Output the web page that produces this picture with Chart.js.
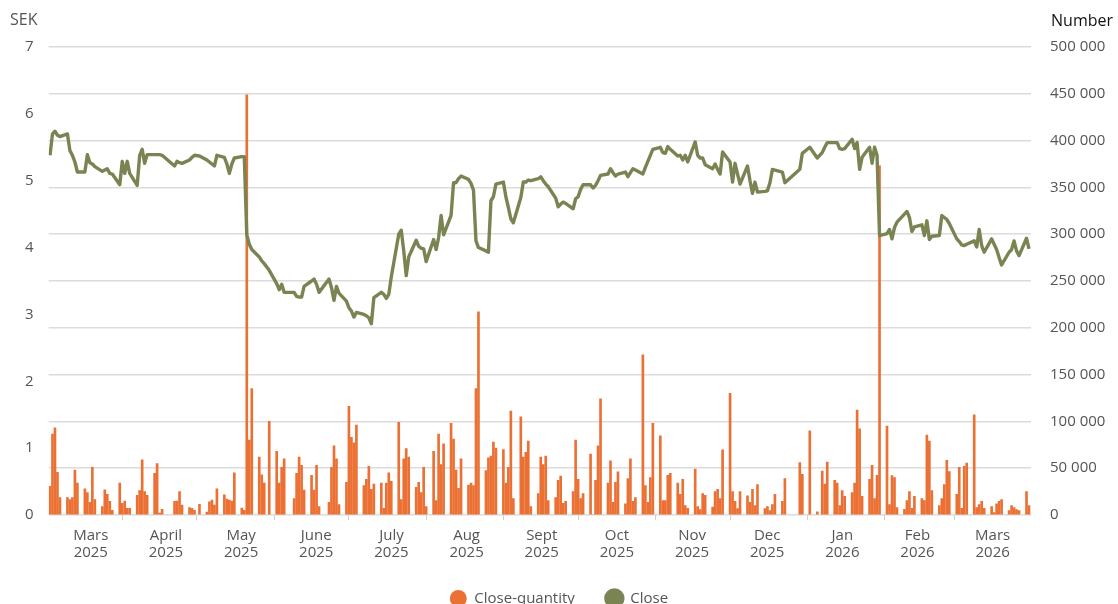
<!DOCTYPE html>
<html>
<head>
<meta charset="utf-8">
<script src="https://cdn.jsdelivr.net/npm/chart.js@4.4.1/dist/chart.umd.min.js"></script>
<style>
  html, body { margin: 0; padding: 0; background: #fff; overflow: hidden; }
  #wrap { position: relative; width: 1118px; height: 616px; }
  .unit { position: absolute; font-family: 'Open Sans', sans-serif; }
  #sek { left: 10px; top: 8px; font-size: 16px; color: #555; }
  #num { right: 5px; top: 9px; font-size: 16px; color: #111; }
</style>
</head>
<body>
<div id="wrap">
  <canvas id="chart" width="1118" height="616"></canvas>
  <div class="unit" id="sek">SEK</div>
  <div class="unit" id="num">Number</div>
</div>
<script>
// one row per week, Mon..Fri, starting Mon 3 Mar 2025. null = market closed
const closePrices = [
  5.38, 5.70, 5.74, 5.68, 5.66,
  5.70, 5.45, 5.38, 5.28, 5.13,
  5.13, 5.39, 5.27, 5.25, 5.21,
  5.14, 5.16, 5.18, 5.11, 5.10,
  4.94, 5.29, 5.11, 5.29, 5.11,
  4.93, 5.38, 5.47, 5.26, 5.39,
  5.39, 5.39, 5.39, 5.38, null,
  null, 5.22, 5.29, 5.27, 5.26,
  5.31, 5.35, 5.38, null, 5.37,
  5.31, 5.28, 5.25, 5.22, 5.38,
  5.35, 5.25, 5.11, 5.25, 5.34,
  5.36, 5.36, 4.19, 4.05, 3.97,
  3.86, 3.80, 3.76, null, 3.66,
  3.46, 3.37, 3.45, 3.33, null,
  3.33, 3.27, 3.26, 3.26, 3.42,
  3.50, 3.53, 3.45, 3.33, null,
  3.53, 3.40, 3.21, 3.42, 3.32,
  3.20, 3.10, 3.05, 2.96, 3.03,
  3.00, 2.98, 2.95, 2.86, 3.25,
  3.33, 3.30, 3.24, 3.30, 3.56,
  4.20, 4.26, 3.95, 3.58, 3.86,
  4.11, 4.02, 3.99, 3.98, 3.79,
  4.12, 3.97, 4.15, 4.48, 4.19,
  4.48, 4.97, 4.97, 5.03, 5.07,
  5.02, 4.96, 4.86, 4.10, 4.00,
  3.95, 3.93, 4.70, 4.76, 4.95,
  4.98, 4.76, 4.60, 4.43, 4.37,
  4.75, 4.98, 4.98, 5.01, 5.00,
  5.03, 5.06, 5.00, 4.95, 4.91,
  4.74, 4.61, 4.65, 4.68, 4.66,
  4.58, 4.73, 4.76, 4.87, 4.94,
  4.94, 4.89, 4.93, 5.00, 5.08,
  5.10, 5.18, 5.12, 5.07, 5.10,
  5.13, 5.06, 5.12, 5.18, 5.16,
  5.10, 5.20, 5.29, 5.38, 5.47,
  5.50, 5.42, 5.41, 5.51, 5.47,
  5.37, 5.38, 5.31, 5.38, 5.28,
  5.58, 5.38, 5.34, 5.34, 5.24,
  5.18, 5.25, 5.17, 5.10, 5.43,
  5.28, 4.98, 5.26, 5.10, 4.95,
  5.22, 5.00, 4.81, 4.98, 4.83,
  4.84, 4.85, 4.97, 5.17, 5.16,
  5.13, 4.97, null, null, null,
  5.17, 5.41, null, null, 5.50,
  5.34, null, 5.42, 5.50, 5.57,
  5.57, 5.57, 5.48, 5.47, 5.48,
  5.62, 5.48, 5.57, 5.17, 5.35,
  5.50, 5.26, 5.50, 5.38, 4.18,
  4.21, 4.27, 4.13, 4.30, 4.38,
  4.50, 4.54, 4.45, 4.24, 4.31,
  4.34, 4.18, 4.40, 4.12, 4.17,
  4.18, 4.48, 4.45, 4.42, 4.36,
  4.13, 4.09, 4.04, 4.03, 4.05,
  4.10, 4.01, 4.27, 4.03, 3.93,
  4.13, 4.05, 3.97, 3.85, 3.74,
  3.93, 3.97, 4.10, 3.95, 3.88,
  4.14, 3.98
];

const closeQuantity = [
  30500, 86500, 93000, 45500, 18500,
  18500, 16500, 18500, 48000, 34000,
  28000, 24000, 13500, 51000, 16500,
  9000, 27000, 22000, 14500, 5000,
  34000, 12500, 15000, 7000, 7000,
  21000, 26000, 59000, 25000, 21000,
  44500, 55000, 2000, 6000, null,
  null, 14500, 15000, 25000, 10500,
  8000, 7000, 5000, null, 11500,
  3000, 14000, 16000, 10500, 28000,
  21500, 17000, 16000, 15000, 45000,
  7500, 5000, 449000, 80000, 135000,
  62000, 43000, 34000, null, 100000,
  68000, 34000, 51000, 60000, null,
  17500, 44500, 62000, 53000, 26500,
  42500, 26500, 53000, 9000, null,
  13500, 51000, 74000, 60000, 11000,
  35000, 116000, 83000, 77000, 96000,
  31500, 38000, 52000, 27500, 33000,
  34000, 7000, 34000, 45000, 36000,
  99000, 16500, 60000, 71000, 62000,
  29500, 35000, 24000, 51000, 9000,
  68000, 15500, 86500, 54000, 76000,
  98000, 81000, 48000, 28500, 60000,
  32000, 34000, 31500, 135000, 217000,
  47500, 61000, 63000, 78000, 71500,
  70000, 34000, 51000, 111000, 17500,
  105000, 62000, 67000, 79000, 9000,
  23000, 62000, 54000, 63000, 15500,
  18500, 37000, 41500, 12500, 14500,
  25000, 80000, 38000, 17500, 23000,
  65000, 0, 37000, 74000, 124000,
  34000, 58000, 13500, 35000, 46000,
  12000, 39000, 60000, 14500, 18500,
  171000, 31500, 13500, 40000, 98000,
  84500, 15500, 15500, 42500, 44500,
  34000, 22000, 38000, 10000, 7000,
  49000, 9000, 5800, 23000, 21000,
  8500, 25000, 27500, 17500, 69500,
  130000, 25000, 14500, 6800, 25000,
  20500, 13500, 27500, 10000, 32500,
  6800, 9000, 4600, 11000, 22000,
  14500, 39000, null, null, null,
  56000, 43500, null, null, 90000,
  3500, null, 47000, 33000, 56500,
  37000, 34000, 10000, 26000, 20000,
  24000, 34000, 112000, 92000, 20000,
  38000, 53000, 17500, 42500, 373000,
  95000, 11000, 42000, 40000, 8000,
  6000, 15500, 25000, 7000, 20000,
  17500, 15500, 85500, 79000, 26000,
  10000, 17500, 32500, 58500, 46500,
  22000, 51000, 7000, 52000, 55500,
  107000, 8000, 11000, 14500, 7000,
  9000, 2500, 12000, 14500, 16500,
  4600, 10000, 8000, 5800, 4600,
  25000, 10000
];

const monthLabels = [
  ['Mars', '2025'], ['April', '2025'], ['May', '2025'], ['June', '2025'],
  ['July', '2025'], ['Aug', '2025'], ['Sept', '2025'], ['Oct', '2025'],
  ['Nov', '2025'], ['Dec', '2025'], ['Jan', '2026'], ['Feb', '2026'],
  ['Mars', '2026']
];

const FONT = "'Open Sans', sans-serif";
const DAY = 86400000;
const origin = Date.UTC(2025, 2, 1);
function dayNo(y, m, d) {
  return (Date.UTC(y, m, d) - origin) / DAY;
}

// x value (days since 1 Mar 2025) of every weekday in the series
let tradeDays = [];
for (let d = dayNo(2025, 2, 3); tradeDays.length < closePrices.length; d++) {
  let wd = new Date(origin + d * DAY).getUTCDay();
  if (wd > 0 && wd < 6) tradeDays.push(d);
}
let monthStarts = [];
for (let m = 3; m <= 14; m++) monthStarts.push(dayNo(2025, m, 1));

function points(values) {
  let out = [];
  values.forEach((v, i) => {
    if (v !== null) out.push({ x: tradeDays[i], y: v });
  });
  return out;
}

function spaced(v) {
  return String(v).replace(/\B(?=(\d{3})+(?!\d))/g, ' ');
}

let ctx = document.getElementById('chart');
let chart = new Chart(ctx, {
  type: 'bar',
  data: {
    datasets: [
      {
        label: 'Close-quantity',
        data: points(closeQuantity),
        backgroundColor: '#eb7034',
        borderWidth: 0,
        barThickness: 2,
        xAxisID: 'x',
        yAxisID: 'y1',
        order: 1,
      },
      {
        type: 'line',
        label: 'Close',
        data: points(closePrices),
        borderColor: '#7a8452',
        backgroundColor: '#7a8452',
        borderWidth: 3.4,
        borderJoinStyle: 'round',
        pointRadius: 0,
        tension: 0,
        xAxisID: 'x',
        yAxisID: 'y',
        order: 0,
      }
    ]
  },
  options: {
    responsive: false,
    animation: false,
    layout: { padding: { top: 47, left: 0, right: 0, bottom: 0 } },
    plugins: {
      legend: {
        position: 'bottom',
        labels: {
          usePointStyle: true,
          pointStyle: 'circle',
          pointStyleWidth: 17,
          boxHeight: 12,
          padding: 31,
          color: '#555',
          font: { family: FONT, size: 15 },
          sort: (a, b) => a.datasetIndex - b.datasetIndex,
        }
      },
      tooltip: { enabled: false }
    },
    scales: {
      x: {
        type: 'linear',
        offset: false,
        min: 1.48,
        max: 395.8,
        weight: 0,
        grid: { drawOnChartArea: false, drawTicks: true, tickLength: 5, color: '#cfcfcf', offset: false },
        border: { display: false },
        ticks: { callback: () => '', padding: 0, font: { size: 1 } },
        afterBuildTicks: (s) => { s.ticks = monthStarts.map((v) => ({ value: v })); },
        afterFit: (s) => { s.height = 6; },
      },
      xm: {
        type: 'linear',
        offset: false,
        position: 'bottom',
        min: -0.56,
        max: 12.51,
        weight: 1,
        grid: { display: false, drawTicks: false },
        border: { display: false },
        ticks: {
          autoSkip: false,
          maxRotation: 0,
          padding: 6,
          color: '#555',
          font: { family: FONT, size: 15, lineHeight: 1.15 },
          callback: (v) => monthLabels[v],
        },
        afterBuildTicks: (s) => { s.ticks = monthLabels.map((_, i) => ({ value: i })); },
        afterFit: (s) => { s.height = 39; },
      },
      y: {
        position: 'left',
        min: 0,
        max: 7,
        grid: { display: false, drawTicks: false },
        border: { display: false },
        ticks: { stepSize: 1, padding: 15, color: '#555', font: { family: FONT, size: 15 } },
        afterFit: (s) => { s.width = 48.7; },
      },
      y1: {
        position: 'right',
        min: 0,
        max: 500000,
        grid: { color: '#dcdcdc', lineWidth: 1.5, drawTicks: false },
        border: { display: false },
        ticks: {
          stepSize: 50000,
          padding: 19,
          color: '#555',
          font: { family: FONT, size: 15 },
          callback: (v) => spaced(v),
        },
        afterFit: (s) => { s.width = 87; },
      }
    }
  }
});
</script>
</body>
</html>
